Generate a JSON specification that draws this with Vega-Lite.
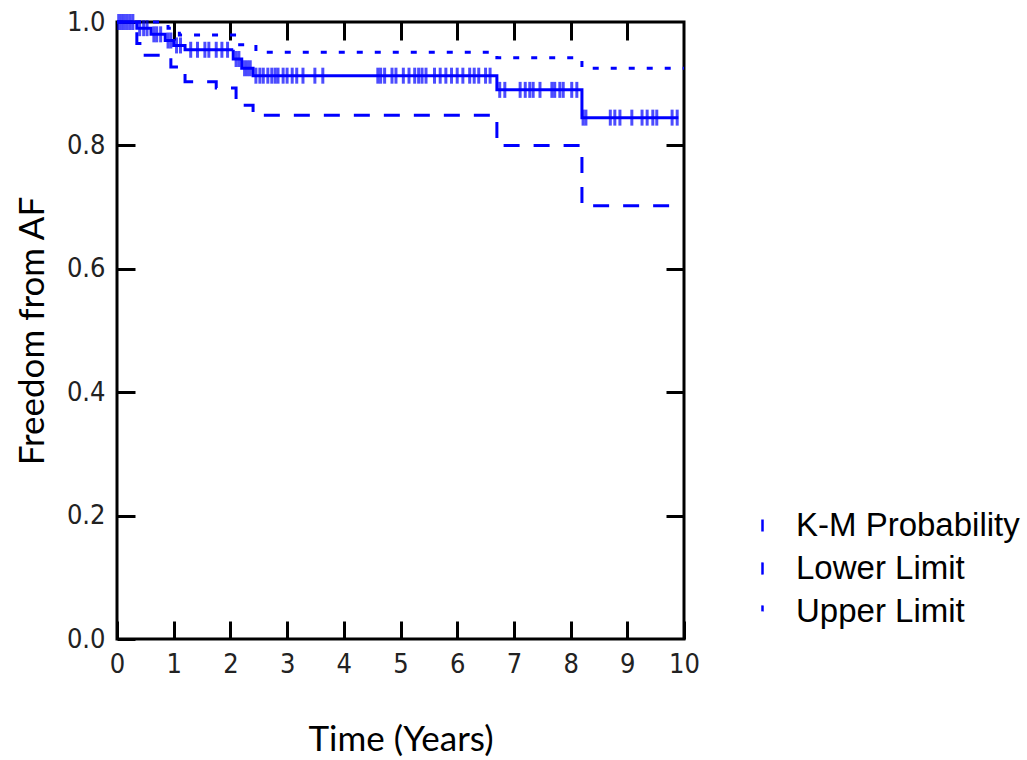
{
  "$schema": "https://vega.github.io/schema/vega-lite/v6.json",
  "autosize": "none",
  "width": 567,
  "height": 617,
  "padding": {"left": 117, "top": 22, "right": 343, "bottom": 121},
  "background": "white",
  "config": {
    "view": {"stroke": "black", "strokeWidth": 3},
    "axis": {"grid": false, "domain": false, "labelFlush": false, "tickColor": "black", "tickWidth": 3, "tickSize": -18, "labelColor": "#222", "labelFont": "Liberation Sans Narrow, DejaVu Sans Condensed, sans-serif", "titleFont": "Lato, Open Sans, sans-serif", "titleFontWeight": "normal", "titleColor": "black", "titleFontSize": 35}
  },
  "datasets": {
    "curves": [
      {"series": "K-M Probability", "t": 0, "s": 1.0},
      {"series": "K-M Probability", "t": 0.35, "s": 0.99},
      {"series": "K-M Probability", "t": 0.6, "s": 0.98},
      {"series": "K-M Probability", "t": 0.85, "s": 0.97},
      {"series": "K-M Probability", "t": 1.0, "s": 0.962},
      {"series": "K-M Probability", "t": 1.2, "s": 0.955},
      {"series": "K-M Probability", "t": 2.05, "s": 0.94},
      {"series": "K-M Probability", "t": 2.2, "s": 0.925},
      {"series": "K-M Probability", "t": 2.4, "s": 0.913},
      {"series": "K-M Probability", "t": 6.7, "s": 0.89},
      {"series": "K-M Probability", "t": 8.2, "s": 0.845},
      {"series": "K-M Probability", "t": 9.9, "s": 0.845},
      {"series": "Lower Limit", "t": 0, "s": 1.0},
      {"series": "Lower Limit", "t": 0.35, "s": 0.965},
      {"series": "Lower Limit", "t": 0.45, "s": 0.946},
      {"series": "Lower Limit", "t": 0.95, "s": 0.927},
      {"series": "Lower Limit", "t": 1.2, "s": 0.903},
      {"series": "Lower Limit", "t": 1.75, "s": 0.893},
      {"series": "Lower Limit", "t": 2.1, "s": 0.865},
      {"series": "Lower Limit", "t": 2.4, "s": 0.849},
      {"series": "Lower Limit", "t": 6.7, "s": 0.8},
      {"series": "Lower Limit", "t": 8.2, "s": 0.702},
      {"series": "Lower Limit", "t": 9.75, "s": 0.702},
      {"series": "Upper Limit", "t": 0, "s": 1.0},
      {"series": "Upper Limit", "t": 0.9, "s": 0.99},
      {"series": "Upper Limit", "t": 1.1, "s": 0.979},
      {"series": "Upper Limit", "t": 2.1, "s": 0.963},
      {"series": "Upper Limit", "t": 2.45, "s": 0.951},
      {"series": "Upper Limit", "t": 6.7, "s": 0.942},
      {"series": "Upper Limit", "t": 8.2, "s": 0.925},
      {"series": "Upper Limit", "t": 10, "s": 0.925}
    ],
    "censor": [
      {"t": 0.03, "s": 1.0}, {"t": 0.08, "s": 1.0}, {"t": 0.13, "s": 1.0}, {"t": 0.18, "s": 1.0}, {"t": 0.23, "s": 1.0}, {"t": 0.28, "s": 1.0},
      {"t": 0.4, "s": 0.99}, {"t": 0.47, "s": 0.99}, {"t": 0.53, "s": 0.99},
      {"t": 0.65, "s": 0.98}, {"t": 0.7, "s": 0.98}, {"t": 0.77, "s": 0.98},
      {"t": 0.9, "s": 0.97}, {"t": 0.95, "s": 0.97},
      {"t": 1.05, "s": 0.962}, {"t": 1.12, "s": 0.962},
      {"t": 1.3, "s": 0.955}, {"t": 1.42, "s": 0.955}, {"t": 1.55, "s": 0.955}, {"t": 1.62, "s": 0.955}, {"t": 1.75, "s": 0.955}, {"t": 1.85, "s": 0.955}, {"t": 1.95, "s": 0.955},
      {"t": 2.1, "s": 0.94}, {"t": 2.15, "s": 0.94},
      {"t": 2.25, "s": 0.925}, {"t": 2.3, "s": 0.925}, {"t": 2.35, "s": 0.925},
      {"t": 2.45, "s": 0.913}, {"t": 2.52, "s": 0.913}, {"t": 2.58, "s": 0.913}, {"t": 2.66, "s": 0.913}, {"t": 2.73, "s": 0.913}, {"t": 2.79, "s": 0.913}, {"t": 2.84, "s": 0.913}, {"t": 2.93, "s": 0.913}, {"t": 3.0, "s": 0.913}, {"t": 3.09, "s": 0.913}, {"t": 3.17, "s": 0.913}, {"t": 3.28, "s": 0.913}, {"t": 3.49, "s": 0.913}, {"t": 3.63, "s": 0.913},
      {"t": 4.6, "s": 0.913}, {"t": 4.65, "s": 0.913}, {"t": 4.72, "s": 0.913}, {"t": 4.85, "s": 0.913}, {"t": 4.92, "s": 0.913}, {"t": 5.05, "s": 0.913}, {"t": 5.15, "s": 0.913}, {"t": 5.25, "s": 0.913}, {"t": 5.32, "s": 0.913}, {"t": 5.38, "s": 0.913}, {"t": 5.45, "s": 0.913}, {"t": 5.6, "s": 0.913}, {"t": 5.7, "s": 0.913}, {"t": 5.8, "s": 0.913}, {"t": 5.9, "s": 0.913}, {"t": 6.0, "s": 0.913}, {"t": 6.1, "s": 0.913}, {"t": 6.22, "s": 0.913}, {"t": 6.3, "s": 0.913}, {"t": 6.38, "s": 0.913}, {"t": 6.5, "s": 0.913}, {"t": 6.58, "s": 0.913},
      {"t": 6.75, "s": 0.89}, {"t": 6.84, "s": 0.89}, {"t": 7.11, "s": 0.89}, {"t": 7.2, "s": 0.89}, {"t": 7.28, "s": 0.89}, {"t": 7.34, "s": 0.89}, {"t": 7.46, "s": 0.89}, {"t": 7.67, "s": 0.89}, {"t": 7.72, "s": 0.89}, {"t": 7.81, "s": 0.89}, {"t": 7.87, "s": 0.89}, {"t": 8.02, "s": 0.89}, {"t": 8.11, "s": 0.89},
      {"t": 8.22, "s": 0.845}, {"t": 8.27, "s": 0.845}, {"t": 8.7, "s": 0.845}, {"t": 8.78, "s": 0.845}, {"t": 8.87, "s": 0.845}, {"t": 9.08, "s": 0.845}, {"t": 9.26, "s": 0.845}, {"t": 9.35, "s": 0.845}, {"t": 9.45, "s": 0.845}, {"t": 9.52, "s": 0.845}, {"t": 9.79, "s": 0.845}, {"t": 9.88, "s": 0.845}
    ]
  },
  "layer": [
    {
      "data": {"name": "curves"},
      "mark": {"type": "line", "interpolate": "step-after", "strokeWidth": 3},
      "encoding": {
        "x": {"field": "t", "type": "quantitative", "scale": {"domain": [0, 10], "nice": false},
              "axis": {"orient": "bottom", "title": "Time (Years)", "values": [0,1,2,3,4,5,6,7,8,9,10], "labelFontSize": 27, "labelPadding": 30, "titlePadding": 45}},
        "y": {"field": "s", "type": "quantitative", "scale": {"domain": [0, 1], "nice": false, "zero": true},
              "axis": {"orient": "left", "title": "Freedom from AF", "values": [0,0.2,0.4,0.6,0.8,1.0], "format": ".1f", "labelFontSize": 27, "labelPadding": 30, "titlePadding": 16}},
        "color": {"field": "series", "type": "nominal", "scale": {"range": ["#0000FF", "#0000FF", "#0000FF"]},
                  "legend": {"title": null, "orient": "none", "legendX": 629, "legendY": 487, "labelFontSize": 33, "labelLimit": 400, "labelFont": "Liberation Sans, Arial, sans-serif", "labelColor": "black", "symbolType": "M0,-1L0,1", "symbolSize": 150, "symbolStrokeWidth": 2.5, "rowPadding": 9, "labelOffset": 17}},
        "strokeDash": {"field": "series", "type": "nominal", "scale": {"range": [[1, 0], [16, 14], [6, 12]]}, "legend": null}
      }
    },
    {
      "data": {"name": "censor"},
      "mark": {"type": "tick", "orient": "vertical", "color": "#0000FF", "thickness": 3, "size": 16},
      "encoding": {
        "x": {"field": "t", "type": "quantitative", "axis": {"orient": "top", "labels": false, "title": null, "values": [1,2,3,4,5,6,7,8,9]}},
        "y": {"field": "s", "type": "quantitative", "axis": {"orient": "right", "labels": false, "title": null, "values": [0.2,0.4,0.6,0.8]}}
      }
    }
  ],
  "resolve": {"axis": {"x": "independent", "y": "independent"}}
}
